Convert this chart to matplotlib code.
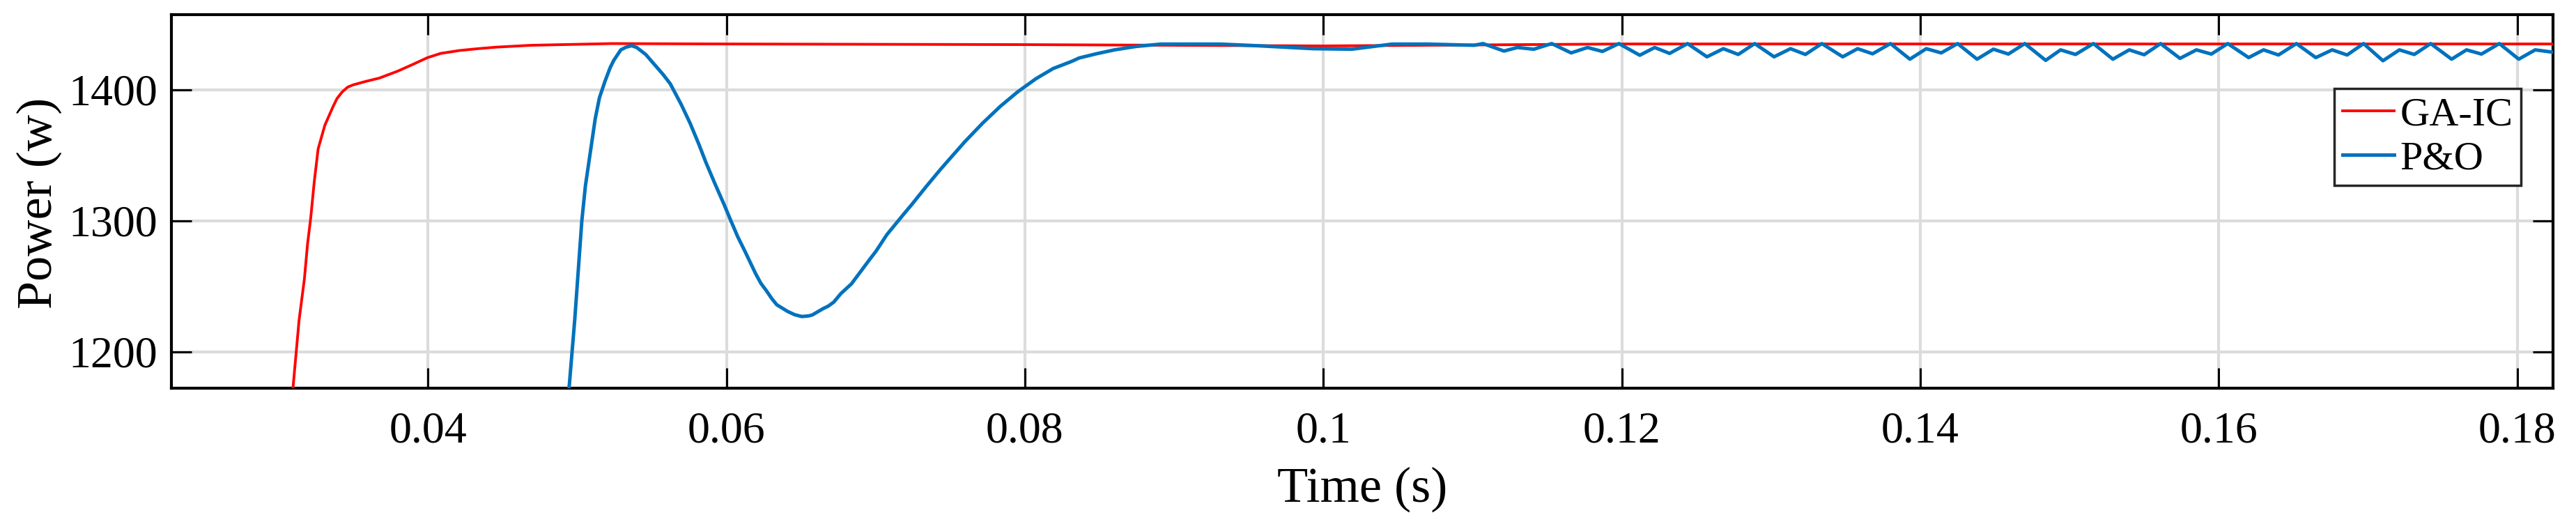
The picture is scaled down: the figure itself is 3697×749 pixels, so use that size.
import matplotlib
matplotlib.use("Agg")
import matplotlib.pyplot as plt

# GA-IC response (time s, power W)
t_gaic = [0.0300, 0.03095, 0.03136, 0.03172, 0.03193, 0.03214, 0.03238, 0.03264,
          0.03309, 0.03336, 0.03363, 0.0339, 0.03425, 0.03461, 0.03496, 0.03585,
          0.03675, 0.0380, 0.03906, 0.03995, 0.04085, 0.0421, 0.04334, 0.0446,
          0.0469, 0.0523, 0.0600, 0.0800, 0.1000, 0.1200, 0.1830]
p_gaic = [1080, 1172, 1224, 1255.9, 1282.4, 1302, 1330, 1355,
          1373, 1380, 1387, 1393.3, 1398.4, 1402, 1403.7, 1406.5,
          1409, 1414.4, 1419.8, 1424.5, 1427.8, 1430, 1431.4, 1432.6,
          1434, 1435.3, 1435, 1434.5, 1433.5, 1435, 1435]

# P&O response (time s, power W)
t_po = [0.0488, 0.04945, 0.04983, 0.05031, 0.05055, 0.05091, 0.05121, 0.05149,
        0.05186, 0.05221, 0.05245, 0.05292, 0.05328, 0.05365, 0.05399, 0.05459,
        0.05507, 0.05554, 0.05577, 0.05624, 0.05697, 0.05756, 0.05815, 0.05862,
        0.05922, 0.05983, 0.0603, 0.06076, 0.06123, 0.06196, 0.06231, 0.06267,
        0.06303, 0.06337, 0.0641, 0.06457, 0.06505, 0.06552, 0.06575, 0.06647,
        0.06683, 0.06719, 0.06765, 0.06838, 0.06909, 0.06956, 0.07003, 0.07075,
        0.07147, 0.07194, 0.07242, 0.07337, 0.07432, 0.07478, 0.07598, 0.07716,
        0.07836, 0.07953, 0.08074, 0.0819, 0.08311, 0.08363, 0.08478, 0.0860,
        0.08744, 0.0891, 0.0931, 0.0955, 0.0993, 0.1019, 0.1046,
        0.1070, 0.1101, 0.1107, 0.1121, 0.1130, 0.1141,
        0.1153, 0.1166, 0.1177, 0.1187,
        0.1198, 0.1212, 0.1222, 0.1232,
        0.1244, 0.1257, 0.1268, 0.1278,
        0.1289, 0.1302, 0.1313, 0.1323,
        0.1334, 0.1348, 0.1358, 0.1368,
        0.1380, 0.1393, 0.1404, 0.1414,
        0.1425, 0.1438, 0.1449, 0.1459,
        0.1470, 0.1484, 0.1494, 0.1504,
        0.1516, 0.1529, 0.1540, 0.1550,
        0.1561, 0.1574, 0.1585, 0.1595,
        0.1606, 0.1620, 0.1630, 0.1640,
        0.1652, 0.1665, 0.1676, 0.1686,
        0.1697, 0.1710, 0.1721, 0.1731,
        0.1742, 0.1756, 0.1766, 0.1776,
        0.1788, 0.1801, 0.1812, 0.1824]
p_po = [1140, 1172, 1224, 1300.2, 1326.8, 1355, 1378.2, 1394,
        1406.5, 1417, 1422.5, 1430.5, 1432.6, 1433.7, 1432.3, 1427,
        1420.7, 1414.5, 1411.5, 1404.5, 1388.8, 1374.6, 1358.5, 1344.7,
        1328.6, 1312.8, 1300, 1287.8, 1277, 1259.6, 1252.3, 1246.8,
        1240.8, 1236, 1230.9, 1228.4, 1227, 1227.5, 1228.2, 1233,
        1235, 1238, 1244.3, 1252, 1262.8, 1270, 1277, 1289.5,
        1299.5, 1306, 1312.5, 1326, 1339, 1345, 1360.5, 1374.5,
        1387.5, 1398.6, 1408.5, 1416.3, 1421.6, 1424.3, 1427.5, 1430.5,
        1433.1, 1434.9, 1434.9, 1433.7, 1431.4, 1431, 1434.9,
        1434.9, 1434, 1435.3, 1429.6, 1432.3, 1431,
        1435.3, 1428.2, 1432.3, 1429.3,
        1435.3, 1426.4, 1432.3, 1427.8,
        1435.3, 1425.2, 1431.4, 1427,
        1435.3, 1425.2, 1431.4, 1427,
        1435.3, 1425.2, 1431.4, 1427.5,
        1435.3, 1423.4, 1431.4, 1428.2,
        1435.3, 1423.4, 1431, 1427.3,
        1435.3, 1422.5, 1430.5, 1427,
        1435.3, 1423.4, 1430.5, 1426.8,
        1435.3, 1424, 1430.5, 1427.3,
        1435.3, 1424.6, 1430.5, 1426.6,
        1435.3, 1424.6, 1430.5, 1426.6,
        1435.3, 1422.2, 1430.5, 1427,
        1435.3, 1423.4, 1430.5, 1427.3,
        1435.3, 1423.4, 1430.5, 1428.7]

x_ticks = [0.04, 0.06, 0.08, 0.10, 0.12, 0.14, 0.16, 0.18]
x_tick_labels = ["0.04", "0.06", "0.08", "0.1", "0.12", "0.14", "0.16", "0.18"]
y_ticks = [1200, 1300, 1400]

plt.rcParams['font.family'] = ['Liberation Serif', 'DejaVu Serif']

fig = plt.figure(figsize=(36.97, 7.49), dpi=100)
ax = fig.add_axes([0.0665, 0.2563, 0.9246, 0.7157])

ax.plot(t_gaic, p_gaic, color='#ff0000', lw=2.8, label='GA-IC', zorder=3)
ax.plot(t_po, p_po, color='#0072bd', lw=3.6, label='P&O', zorder=4)

ax.set_xlim(0.0228, 0.1824)
ax.set_ylim(1172.3, 1457.4)
ax.set_xticks(x_ticks)
ax.set_xticklabels(x_tick_labels)
ax.set_yticks(y_ticks)

ax.grid(True, color='#dcdcdc', lw=3)
ax.set_axisbelow(True)
for s in ax.spines.values():
    s.set_linewidth(3)
ax.tick_params(direction='in', length=21, width=2.2, top=True, right=True,
               labelsize=46)
ax.tick_params(axis='x', pad=24)
ax.tick_params(axis='y', pad=14)

ax.set_xlabel('Time (s)', fontsize=52)
ax.set_ylabel('Power (w)', fontsize=52)
ax.xaxis.set_label_coords(0.5, -0.21)
ax.yaxis.set_label_coords(-0.046, 0.495)

leg = ax.legend(loc='upper right', bbox_to_anchor=(0.9865, 0.802), fontsize=42,
                fancybox=False, edgecolor='#262626', framealpha=1,
                handlelength=1.27, handletextpad=0.14, borderpad=0.2,
                labelspacing=0.17, borderaxespad=0)
leg.get_frame().set_linewidth(2.5)

fig.savefig('out.png', dpi=100)
